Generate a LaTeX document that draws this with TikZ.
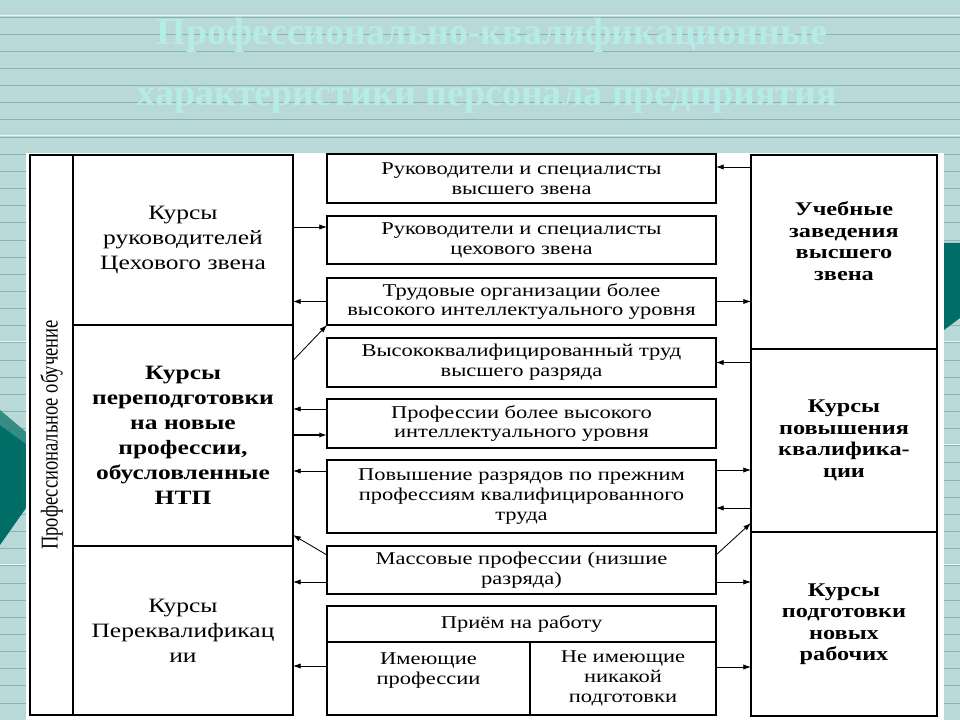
\documentclass[tikz,border=0pt]{standalone}
\usepackage{fontspec}
\setmainfont{Liberation Serif}
\newfontfamily\widefont[FakeStretch=1.25]{Liberation Serif}
\usetikzlibrary{arrows.meta}

\definecolor{slidebg}{RGB}{185,216,216}
\definecolor{ruleline}{RGB}{138,180,180}
\definecolor{ruleglow}{RGB}{236,246,246}
\definecolor{titlecyan}{RGB}{182,236,232}
\definecolor{decodark}{RGB}{0,110,102}
\definecolor{decolight}{RGB}{52,140,132}

\def\pxl{0.025cm}

\begin{document}
\begin{tikzpicture}[
  x=0.025cm, y=-0.025cm,
  every node/.style={inner sep=0pt, outer sep=0pt},
  dim/.style 2 args={minimum width=#1*0.025cm, minimum height=#2*0.025cm},
  framebox/.style={draw, line width=0.8pt, anchor=north west, align=center},
  midbox/.style={draw, line width=1pt, anchor=north west, align=center,
    font=\widefont\fontsize{12.8}{14.2}\selectfont},
  leftbox/.style={framebox, font=\widefont\fontsize{14.5}{17.7}\selectfont},
  rightbox/.style={framebox, font=\widefont\bfseries\fontsize{13.8}{15.3}\selectfont},
  arr/.style={-{Latex[length=5.5pt, width=3.8pt]}, line width=0.6pt},
  title/.style={font=\bfseries\fontsize{27}{30}\selectfont, text=titlecyan, anchor=base}
]

% Slide background: ruled paper, 960 x 720 px.
\useasboundingbox (0,0) rectangle (960,720);
\fill[slidebg] (0,0) rectangle (960,720);
\foreach \i in {0,...,41}
  \draw[ruleline, line width=0.6pt] (0,17+17.15*\i) -- (960,17+17.15*\i);
\foreach \i in {0,7,19,25,32}
  \draw[ruleglow, line width=0.9pt] (0,15.6+17.15*\i) -- (960,15.6+17.15*\i);

% Teal ribbons peeking out at the sides.
\fill[decolight] (0,410) -- (26,432) -- (26,444) -- (0,425) -- cycle;
\fill[decodark] (0,425) -- (26,444) -- (26,508) -- (0,545) -- cycle;
\fill[decodark] (944,243) -- (960,243) -- (960,318) -- (944,330) -- cycle;

% Faint slide title.
\node[title] (head1) at (492,45) {Профессионально-квалификационные};
\node[title] (head2) at (487,106) {характеристики персонала предприятия};

% White sheet under the chart.
\fill[white] (26,153) rectangle (944,720);

% Left column: courses
\node[framebox, dim={43}{560}, font=\fontsize{13.2}{15}\selectfont] (lcol) at (30,155)
  {\rotatebox{90}{\scalebox{1}[1.3]{Профессиональное обучение}}};
\node[leftbox, dim={220}{170}] (lb1) at (73,155) {Курсы\\руководителей\\Цехового звена};
\node[leftbox, dim={220}{221}, font=\widefont\bfseries\fontsize{14.5}{17.7}\selectfont] (lb2) at (73,325)
  {Курсы\\переподготовки\\на новые\\профессии,\\обусловленные\\НТП};
\node[leftbox, dim={220}{169}] (lb3) at (73,546) {Курсы\\Переквалификац\\ии};
\draw[line width=1.4pt] (lcol.north west) rectangle (lb3.south east);

% Middle column: staff groups
\node[midbox, dim={389}{49}] (cb1) at (327,154) {Руководители и специалисты\\высшего звена};
\node[midbox, dim={389}{48}] (cb2) at (327,216) {Руководители и специалисты\\цехового звена};
\node[midbox, dim={389}{47}] (cb3) at (327,278) {Трудовые организации более\\высокого интеллектуального уровня};
\node[midbox, dim={389}{49}] (cb4) at (327,338) {Высококвалифицированный труд\\высшего разряда};
\node[midbox, dim={389}{49}] (cb5) at (327,399) {Профессии более высокого\\интеллектуального уровня};
\node[midbox, dim={389}{73}] (cb6) at (327,460) {Повышение разрядов по прежним\\профессиям квалифицированного\\труда};
\node[midbox, dim={389}{48}] (cb7) at (327,546) {Массовые профессии (низшие\\разряда)};
\node[midbox, dim={389}{36}] (cb8) at (327,606) {Приём на работу};
\node[midbox, dim={203}{73}] (cb8a) at (327,642) {Имеющие\\профессии\\~};
\node[midbox, dim={186}{73}] (cb8b) at (530,642) {Не имеющие\\никакой\\подготовки};

% Right column: where the training happens
\node[rightbox, dim={186}{194}] (rb1) at (751,155) {Учебные\\заведения\\высшего\\звена\\~};
\node[rightbox, dim={186}{183}] (rb2) at (751,349) {Курсы\\повышения\\квалифика-\\ции};
\node[rightbox, dim={186}{184}] (rb3) at (751,532) {Курсы\\подготовки\\новых\\рабочих};
\draw[line width=1.4pt] (rb1.north west) rectangle (rb3.south east);

% Links on the left
\draw[arr] ([yshift=13*\pxl]cb2.west -| lb1.east) -- ([yshift=13*\pxl]cb2.west);
\draw[arr] (cb3.west) -- (cb3.west -| lb1.east);
\draw[arr] ([yshift=75*\pxl]lb2.east) -- (cb3.south west);
\draw[arr] ([yshift=14.5*\pxl]cb5.west) -- ([yshift=14.5*\pxl]cb5.west -| lb2.east);
\draw[arr, line width=1pt] ([yshift=-11.5*\pxl]cb5.west -| lb2.east) -- ([yshift=-11.5*\pxl]cb5.west);
\draw[arr] ([yshift=25.5*\pxl]cb6.west) -- ([yshift=25.5*\pxl]cb6.west -| lb2.east);
\draw[arr] ([yshift=15*\pxl]cb7.west) -- ([yshift=11*\pxl]lb2.south east);
\draw[arr] ([yshift=-12*\pxl]cb7.west) -- ([yshift=-12*\pxl]cb7.west -| lb3.east);
\draw[arr] ([yshift=12.5*\pxl]cb8a.west) -- ([yshift=12.5*\pxl]cb8a.west -| lb3.east);

% Links on the right
\draw[arr] ([yshift=11.5*\pxl]cb1.east -| rb1.west) -- ([yshift=11.5*\pxl]cb1.east);
\draw[arr] (cb3.east) -- (cb3.east -| rb1.west);
\draw[arr] (cb4.east -| rb2.west) -- (cb4.east);
\draw[arr] ([yshift=26.5*\pxl]cb6.east) -- ([yshift=26.5*\pxl]cb6.east -| rb2.west);
\draw[arr] ([yshift=-11.5*\pxl]cb6.east -| rb2.west) -- ([yshift=-11.5*\pxl]cb6.east);
\draw[arr] ([yshift=15*\pxl]cb7.east) -- ([yshift=9*\pxl]rb2.south west);
\draw[arr] ([yshift=-12*\pxl]cb7.east) -- ([yshift=-12*\pxl]cb7.east -| rb3.west);
\draw[arr] ([yshift=11.5*\pxl]cb8b.east) -- ([yshift=11.5*\pxl]cb8b.east -| rb3.west);

\end{tikzpicture}
\end{document}
